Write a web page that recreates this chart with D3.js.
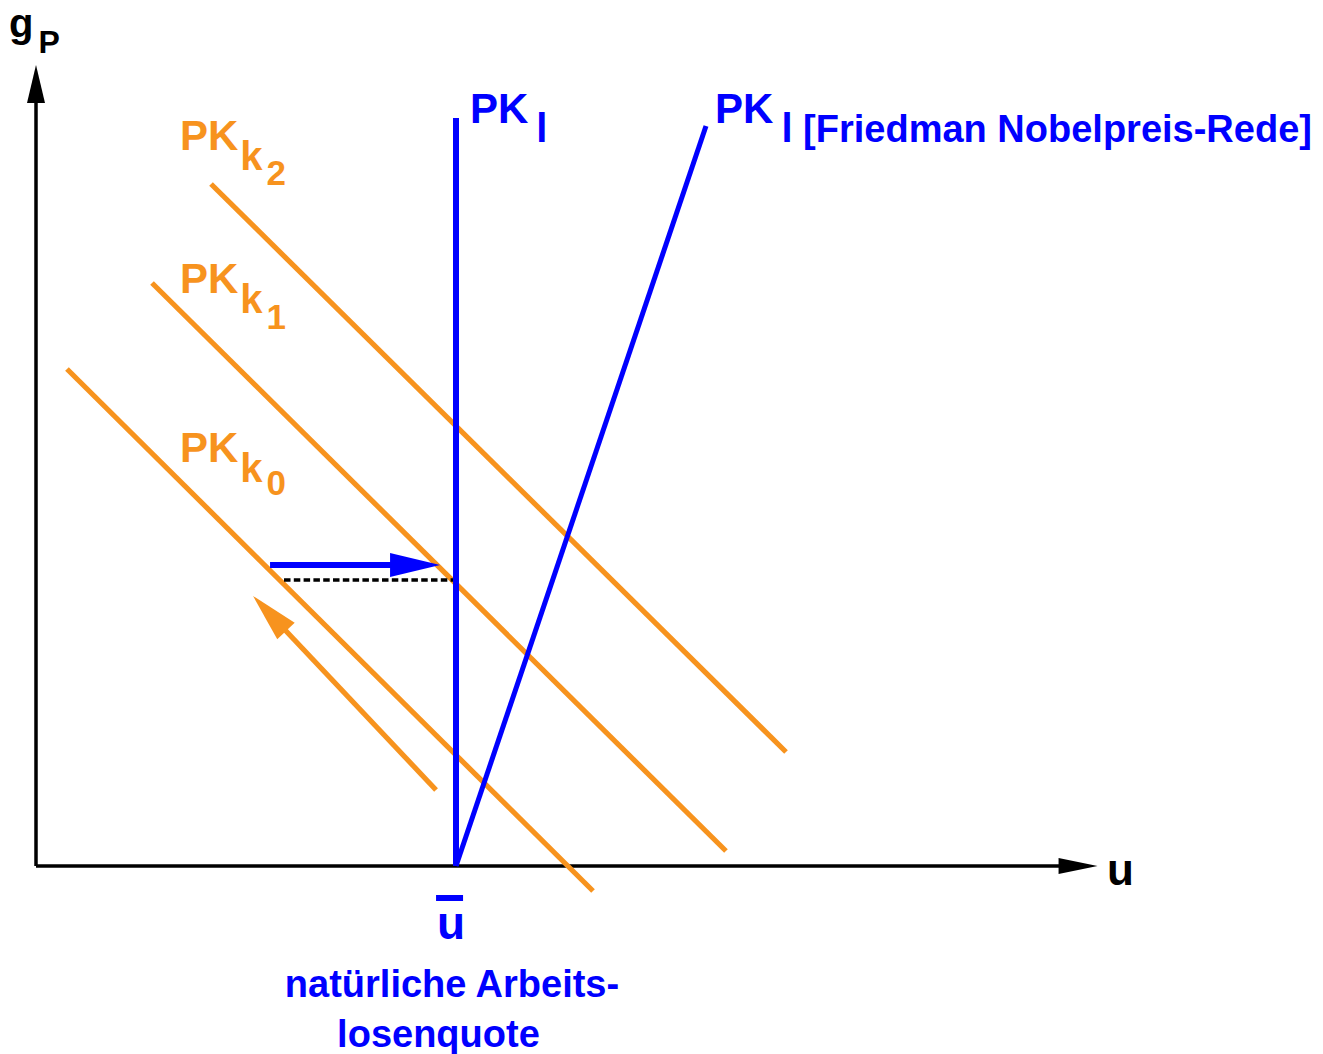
<!DOCTYPE html>
<html>
<head>
<meta charset="utf-8">
<script src="https://cdn.jsdelivr.net/npm/d3@7"></script>
<style>
  html, body { margin: 0; padding: 0; background: #fff; }
  svg { display: block; }
  text { font-family: "Liberation Sans", Arial, Helvetica, sans-serif; font-weight: bold; }
</style>
</head>
<body>
<script>
// ---------- data (abstract units: u = unemployment, g = inflation) ----------
const axisU = [0, 10.11];
const axisG = [0, 8.01];
const naturalRate = 4.0;

const shortRunNames = ["2", "1", "0"];
const shortRunU = [[1.667, 7.143], [1.105, 6.571], [0.295, 5.305]];
const shortRunG = [[6.82, 1.14], [5.83, 0.15], [4.97, -0.25]];
const shortRunLabelU = [1.371, 1.371, 1.371];
const shortRunLabelG = [7.16, 5.73, 4.04];

const longRunU = [4.0, 4.0];
const longRunG = [0, 7.48];
const friedmanU = [4.0, 6.381];
const friedmanG = [0, 7.40];

const blueArrowU = [2.229, 3.848];
const blueArrowG = [3.01, 3.01];
const orangeArrowU = [3.81, 2.067];
const orangeArrowG = [0.76, 2.70];
const dashedU = [2.362, 4.02];
const dashedG = [2.86, 2.86];

const texts = {
  yLabel: "g", ySub: "P", xLabel: "u",
  pk: "PK", k: "k", l: "l",
  friedman: " [Friedman Nobelpreis-Rede]",
  ubar: "u",
  natural1: "natürliche Arbeits-",
  natural2: "losenquote"
};

// ---------- setup ----------
const W = 1323, H = 1054;
const ORANGE = "#F7931E", BLUE = "#0000FF";
const svg = d3.select("body").append("svg").attr("width", W).attr("height", H);
const x = d3.scaleLinear().domain([0, 10]).range([36, 1086]);
const y = d3.scaleLinear().domain([0, 8]).range([866, 66]);

const line = d3.line().x(d => x(d[0])).y(d => y(d[1]));
const pts = (us, gs) => us.map((u, i) => [u, gs[i]]);

function arrow(us, gs, color, width, headLen, headHalf) {
  const x0 = x(us[0]), y0 = y(gs[0]), x1 = x(us[1]), y1 = y(gs[1]);
  const dx = x1 - x0, dy = y1 - y0, len = Math.hypot(dx, dy);
  const ux = dx / len, uy = dy / len;
  const bx = x1 - ux * headLen, by = y1 - uy * headLen;
  svg.append("line").attr("x1", x0).attr("y1", y0)
    .attr("x2", bx + ux * 2).attr("y2", by + uy * 2)
    .attr("stroke", color).attr("stroke-width", width);
  svg.append("polygon")
    .attr("points", [[x1, y1], [bx - uy * headHalf, by + ux * headHalf], [bx + uy * headHalf, by - ux * headHalf]].map(p => p.join(",")).join(" "))
    .attr("fill", color);
}

// axes
arrow([axisU[0], axisU[0]], [axisG[0], axisG[1]], "#000", 3.5, 38, 9);
arrow([axisU[0], axisU[1]], [axisG[0], axisG[0]], "#000", 3.5, 39, 8);

// short-run Phillips curves
shortRunU.forEach((us, i) => {
  svg.append("path").attr("d", line(pts(us, shortRunG[i])))
    .attr("fill", "none").attr("stroke", ORANGE).attr("stroke-width", 5.2);
});

// dashed line
svg.append("path").attr("d", line(pts(dashedU, dashedG)))
  .attr("fill", "none").attr("stroke", "#000").attr("stroke-width", 3.5)
  .attr("stroke-dasharray", "6.5,3.3");

// long-run curves
svg.append("path").attr("d", line(pts(longRunU, longRunG)))
  .attr("fill", "none").attr("stroke", BLUE).attr("stroke-width", 6);
svg.append("path").attr("d", line(pts(friedmanU, friedmanG)))
  .attr("fill", "none").attr("stroke", BLUE).attr("stroke-width", 5);

// arrows
arrow(blueArrowU, blueArrowG, BLUE, 6, 50, 12);
arrow(orangeArrowU, orangeArrowG, ORANGE, 5.2, 48, 12);

// ---------- labels ----------
// y-axis label
const gl = svg.append("text").attr("x", x(-0.257)).attr("y", y(8.29)).attr("fill", "#000").attr("font-size", 40);
gl.append("tspan").text(texts.yLabel);
gl.append("tspan").attr("dx", 5).attr("dy", 16).attr("font-size", 32).text(texts.ySub);

// x-axis label
svg.append("text").attr("x", x(10.2)).attr("y", y(-0.19)).attr("fill", "#000").attr("font-size", 44).text(texts.xLabel);

// short-run labels
shortRunNames.forEach((n, i) => {
  const t = svg.append("text").attr("x", x(shortRunLabelU[i])).attr("y", y(shortRunLabelG[i]))
    .attr("fill", ORANGE).attr("font-size", 42);
  t.append("tspan").text(texts.pk);
  t.append("tspan").attr("dx", 2).attr("dy", 20).attr("font-size", 40).text(texts.k);
  t.append("tspan").attr("dx", 4).attr("dy", i === 0 ? 15 : (i === 1 ? 16 : 13)).attr("font-size", 35).text(n);
});

// long-run labels
const l1 = svg.append("text").attr("x", x(4.133)).attr("y", y(7.43)).attr("fill", BLUE).attr("font-size", 42);
l1.append("tspan").text(texts.pk);
l1.append("tspan").attr("dx", 8).attr("dy", 19).attr("font-size", 40).text(texts.l);

const l2 = svg.append("text").attr("x", x(6.467)).attr("y", y(7.43)).attr("fill", BLUE).attr("font-size", 42);
l2.append("tspan").text(texts.pk);
l2.append("tspan").attr("dx", 8).attr("dy", 19).attr("font-size", 40).text(texts.l);
l2.append("tspan").attr("font-size", 38).text(texts.friedman);

// natural rate label
svg.append("text").attr("x", x(naturalRate - 0.048)).attr("y", y(-0.73))
  .attr("text-anchor", "middle").attr("fill", BLUE).attr("font-size", 46).text(texts.ubar);
svg.append("rect").attr("x", x(naturalRate - 0.19)).attr("y", y(-0.29)).attr("width", 27).attr("height", 6).attr("fill", BLUE);

svg.append("text").attr("x", x(3.962)).attr("y", y(-1.31)).attr("text-anchor", "middle")
  .attr("fill", BLUE).attr("font-size", 38).text(texts.natural1);
svg.append("text").attr("x", x(3.833)).attr("y", y(-1.81)).attr("text-anchor", "middle")
  .attr("fill", BLUE).attr("font-size", 38).text(texts.natural2);
</script>
</body>
</html>
